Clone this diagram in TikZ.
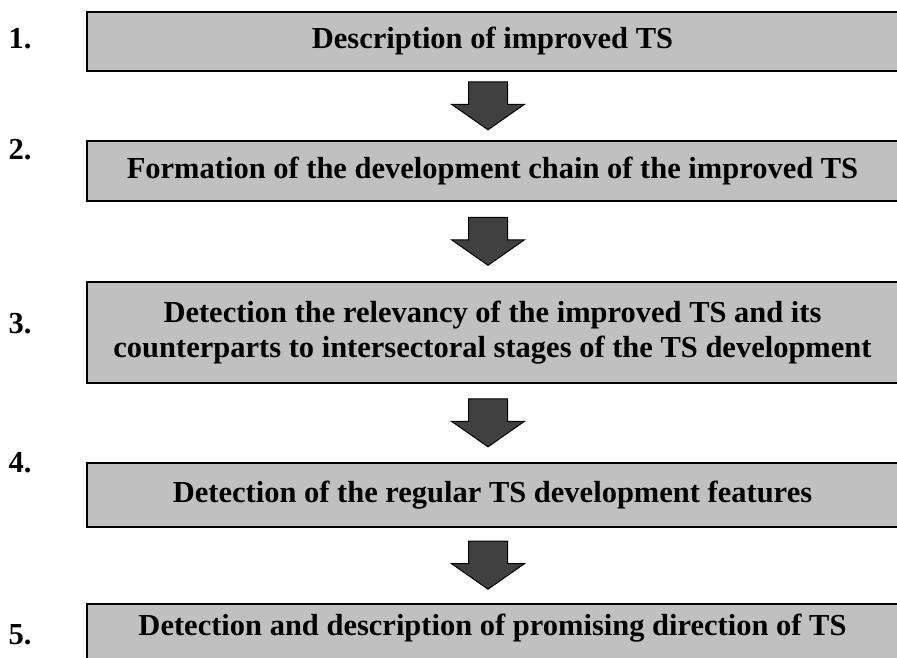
\documentclass[tikz,border=0pt]{standalone}
\usepackage{fontspec}
\setmainfont{Liberation Serif}
\usetikzlibrary{positioning,calc,shapes.arrows}
\definecolor{boxgray}{HTML}{C0C0C0}
\definecolor{arrowgray}{HTML}{404040}

\begin{document}
\begin{tikzpicture}
  [
  x=1pt, y=-1pt, line width=1.5pt,
  font=\fontsize{30.5}{35}\selectfont\bfseries,
  stepbox/.style={rectangle, draw=black, fill=boxgray, minimum width=811pt, inner sep=0pt, align=center},
  downarrow/.style={single arrow, shape border rotate=270, draw=black, fill=arrowgray, line width=1pt,
    minimum height=48pt, single arrow head extend=17pt,
    single arrow tip angle=110, inner xsep=19pt, inner ysep=0pt, xshift=-4.5pt, yshift=7pt},
  numlabel/.style={anchor=west, inner sep=0pt},
  ]
  \clip (0,0) rectangle (897,657);

  % steps
  \node[stepbox, minimum height=59pt] (s1) at (492.5,41.5) {Description of improved TS};
  \node[stepbox, minimum height=60pt] (s2) at (492.5,171) {Formation of the development chain of the improved TS};
  \node[stepbox, minimum height=101pt] (s3) at (492.5,332.5)
    {Detection the relevancy of the improved TS and its\\counterparts to intersectoral stages of the TS development};
  \node[stepbox, minimum height=64pt] (s4) at (492.5,495) {Detection of the regular TS development features};
  \node[stepbox, minimum height=64pt, anchor=north] (s5) at (492.5,603) {};
  \node (t5) at (492.5,628) {Detection and description of promising direction of TS};

  % numbers
  \node[numlabel] (n1) at (8,39) {1.};
  \node[numlabel] (n2) at (8,150) {2.};
  \node[numlabel] (n3) at (8,324) {3.};
  \node[numlabel] (n4) at (8,463) {4.};
  \node[numlabel] (n5) at (8,635) {5.};

  % arrows
  \node[downarrow] (a1) at ($(s1.south)!0.5!(s2.north)$) {};
  \node[downarrow] (a2) at ($(s2.south)!0.5!(s3.north)$) {};
  \node[downarrow] (a3) at ($(s3.south)!0.5!(s4.north)$) {};
  \node[downarrow] (a4) at ($(s4.south)!0.5!(s5.north)$) {};
\end{tikzpicture}
\end{document}
